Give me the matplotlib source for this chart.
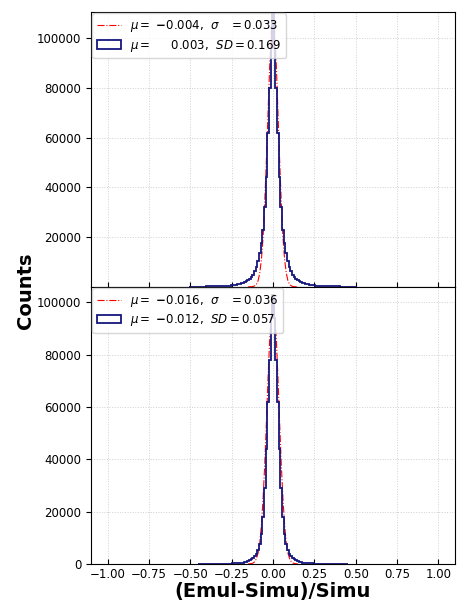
import numpy as np
import matplotlib
matplotlib.use('Agg')
import matplotlib.pyplot as plt

# histogram counts, bins of width 0.01 centred on 0.00, 0.01, ... (one side, mirrored)
top_half = [110000, 96000, 80000, 62000, 44000, 32000, 23000, 17500, 13500, 10500,
            8000, 6200, 4800, 3900, 3200, 2700, 2300, 1900, 1600, 1350,
            1150, 1000, 850, 750, 650, 580, 500, 440, 390, 350,
            310, 280, 250, 225, 200, 180, 165, 150, 135, 120,
            110, 100, 90, 85, 80, 75, 70, 65, 60, 55, 50]
bot_half = [103000, 94000, 78000, 62000, 44000, 29000, 18000, 11500, 7500, 5200,
            3800, 2900, 2300, 1800, 1400, 1100, 850, 650, 500, 400,
            320, 260, 210, 170, 140, 110, 90, 70, 55, 45,
            35, 28, 22, 17, 13, 10, 8, 6, 5, 4,
            3, 2, 2, 1, 1, 1]

# gaussian fit curves
fit_x = [-0.15, -0.14, -0.13, -0.12, -0.11, -0.10, -0.09, -0.08, -0.07, -0.06, -0.05,
         -0.04, -0.03, -0.02, -0.01, 0.0, 0.01, 0.02, 0.03, 0.04, 0.05, 0.06, 0.07,
         0.08, 0.09, 0.10, 0.11, 0.12, 0.13, 0.14, 0.15]
top_fit_half = [110000, 103000, 89000, 70000, 51000, 34000, 20000, 11000, 5600, 2500,
                1000, 400, 130, 40, 10, 0]
bot_fit_half = [100000, 96000, 86000, 71000, 54000, 38000, 25000, 15000, 8000, 4200,
                2000, 850, 330, 120, 40, 10]

top_labels = [r'$\mu=$ $\mathbf{-}0.004$,  $\sigma$   $=0.033$',
              r'$\mu=$     $0.003$,  $SD=0.169$']
bot_labels = [r'$\mu=$ $\mathbf{-}0.016$,  $\sigma$   $=0.036$',
              r'$\mu=$ $\mathbf{-}0.012$,  $SD=0.057$']

xticks = [-1.0, -0.75, -0.5, -0.25, 0.0, 0.25, 0.5, 0.75, 1.0]


def hist_data(half):
    counts = half[:0:-1] + half
    n = len(half) - 1
    centers = np.arange(-n, n + 1) * 0.01
    edges = np.arange(-n - 0.5, n + 1.5) * 0.01
    return centers, edges, counts


fig = plt.figure(figsize=(4.6, 6.05), dpi=100)
ax1 = fig.add_axes([0.198, 0.526, 0.791, 0.454])
ax2 = fig.add_axes([0.198, 0.068, 0.791, 0.458], sharex=ax1)

panels = [(ax1, top_half, top_fit_half, top_labels, 110500, [20000, 40000, 60000, 80000, 100000]),
          (ax2, bot_half, bot_fit_half, bot_labels, 106000, [0, 20000, 40000, 60000, 80000, 100000])]

for ax, half, fhalf, labels, ymax, yt in panels:
    fit_y = fhalf[:0:-1] + fhalf
    ax.plot(fit_x, fit_y, color='red', ls='-.', lw=0.8, label=labels[0])
    c, e, w = hist_data(half)
    ax.hist(c, bins=e, weights=w, histtype='step', color='#16167f', lw=1.3,
            label=labels[1])
    ax.set_ylim(0, ymax)
    ax.set_yticks(yt)
    ax.set_xticks(xticks)
    ax.grid(True, ls=':', color='#d0d0d0', lw=0.7)
    ax.tick_params(axis='x', direction='in', labelsize=8.5, pad=3)
    ax.tick_params(axis='y', direction='out', labelsize=8.5)
    ax.legend(loc='upper left', fontsize=8.5, borderaxespad=0.1, labelspacing=0.3,
              handlelength=2.0)
    for sp in ax.spines.values():
        sp.set_zorder(5)

ax1.tick_params(axis='x', labelbottom=False)
ax2.set_xlim(-1.1, 1.1)
ax2.set_xlabel('(Emul-Simu)/Simu', fontsize=14, fontweight='bold', labelpad=1)
fig.text(0.055, 0.52, 'Counts', rotation=90, fontsize=14, fontweight='bold',
         ha='center', va='center')

fig.savefig('out.png', dpi=100)
